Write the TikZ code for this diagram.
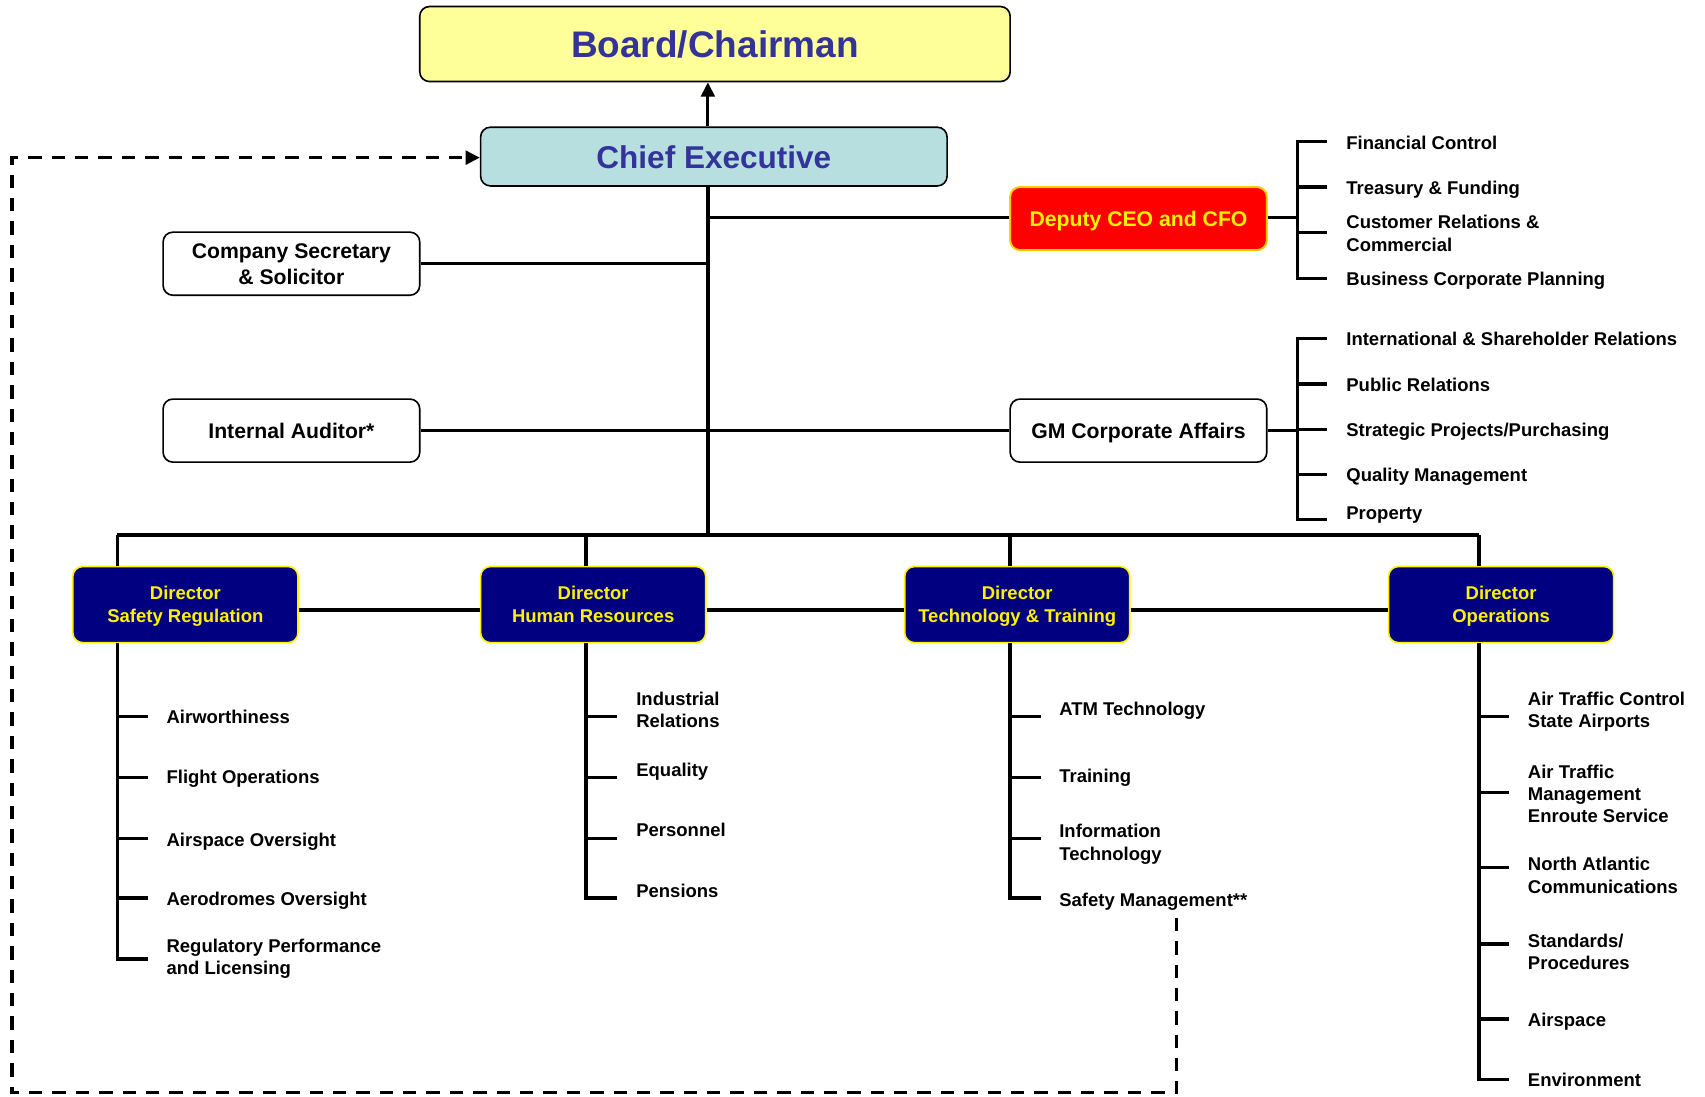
\documentclass[tikz,border=0pt]{standalone}
\usepackage{fontspec}
\setmainfont{Liberation Sans}
\usetikzlibrary{arrows.meta}
\definecolor{boardfill}{RGB}{255,255,153}
\definecolor{cefill}{RGB}{183,223,224}
\definecolor{titleblue}{RGB}{51,51,153}
\definecolor{navybox}{RGB}{0,0,128}
\definecolor{depborder}{RGB}{255,204,0}
\begin{document}
\begin{tikzpicture}[x=1pt,y=-1pt,
  conn/.style={line width=3.1pt, draw=black},
  dashconn/.style={line width=3pt, draw=black, dash pattern=on 12.3pt off 9.2pt},
  box/.style={draw=black, line width=1.5pt, rounded corners=9pt, inner sep=0pt, align=center, text depth=0pt},
  whitebox/.style={box, fill=white, minimum width=236pt, minimum height=58pt,
     font=\fontsize{19.5}{24}\selectfont\bfseries},
  dirbox/.style={box, fill=navybox, draw=yellow, text=yellow, minimum width=207pt, minimum height=70pt,
     font=\fontsize{17}{21}\selectfont\bfseries},
  item/.style={anchor=west, align=left, inner sep=0pt, text depth=0pt, font=\fontsize{17}{20.5}\selectfont\bfseries},
  tip/.style={-{Triangle[length=13pt,width=12.5pt]}}
]
\useasboundingbox (0,0) rectangle (1568,1008);

% top boxes
\node[box, fill=boardfill, minimum width=543pt, minimum height=69pt, text=titleblue,
      font=\fontsize{34}{40}\selectfont\bfseries] (board) at (657.5,40.5) {Board/Chairman};
\node[box, fill=cefill, minimum width=429pt, minimum height=54pt, text=titleblue,
      font=\fontsize{29}{34}\selectfont\bfseries] (ce) at (656.5,144) {Chief Executive};

\node[box, fill=red, draw=depborder, line width=1.8pt, text=yellow, minimum width=236pt, minimum height=58pt,
      font=\fontsize{19.5}{24}\selectfont\bfseries] (dep) at (1047,201) {Deputy CEO and CFO};
\node[whitebox] (cs) at (268,242.5) {Company Secretary\\\& Solicitor};
\node[whitebox] (ia) at (268,396) {Internal Auditor*};
\node[whitebox] (gm) at (1047,396) {GM Corporate Affairs};

% directors
\node[dirbox] (dsr) at (170.5,556) {Director\\Safety Regulation};
\node[dirbox] (dhr) at (545.5,556) {Director\\Human Resources};
\node[dirbox] (dtt) at (935.5,556) {Director\\Technology \& Training};
\node[dirbox] (dop) at (1380.5,556) {Director\\Operations};

% spine coordinates
\coordinate (spine) at (651,492);
\coordinate (b1) at (108,492);
\coordinate (b2) at (539,492);
\coordinate (b3) at (929,492);
\coordinate (b4) at (1360,492);
\coordinate (hl) at (0,561);

% main connectors
\draw[line width=2.7pt, tip] (ce.north -| spine) -- (board.south -| spine);
\draw[conn] (ce.south -| spine) -- (spine);
\draw[conn] (spine |- 0,200) -- (dep.west |- 0,200);
\draw[conn] (cs.east) -- (cs.east -| spine);
\draw[conn] (ia.east) -- (gm.west);
\draw[conn] (b1) -- (b4);
\draw[conn] (b1) -- (b1 |- dsr.north);
\draw[conn] (b2) -- (b2 |- dhr.north);
\draw[conn] (b3) -- (b3 |- dtt.north);
\draw[conn] (b4) -- (b4 |- dop.north);
\draw[conn] (dsr.east |- hl) -- (dhr.west |- hl);
\draw[conn] (dhr.east |- hl) -- (dtt.west |- hl);
\draw[conn] (dtt.east |- hl) -- (dop.west |- hl);

% Deputy bracket
\draw[conn] (dep.east |- 0,200) -- (1193,200);
\draw[conn] (1220,130) -- (1193,130) -- (1193,256) -- (1220,256);
\foreach \y in {172,214} \draw[conn] (1193,\y) -- (1220,\y);
\node[item] (fc) at (1238,131) {Financial Control};
\node[item] (tf) at (1238,173) {Treasury \& Funding};
\node[item] (cr) at (1238,214.5) {Customer Relations \&\\Commercial};
\node[item] (bp) at (1238,256) {Business Corporate Planning};

% GM bracket
\draw[conn] (gm.east) -- (gm.east -| 1193,0);
\draw[conn] (1220,311.5) -- (1193,311.5) -- (1193,477.5) -- (1220,477.5);
\foreach \y in {353,395,436.5} \draw[conn] (1193,\y) -- (1220,\y);
\node[item] (isr) at (1238,312) {International \& Shareholder Relations};
\node[item] (pr) at (1238,353.5) {Public Relations};
\node[item] (sp) at (1238,395) {Strategic Projects/Purchasing};
\node[item] (qm) at (1238,437) {Quality Management};
\node[item] (prop) at (1238,472) {Property};

% Safety Regulation list
\draw[conn] (b1 |- dsr.south) -- (108,882) -- (136,882);
\foreach \y in {659,715,771,826} \draw[conn] (108,\y) -- (136,\y);
\node[item] (sr1) at (153,659) {Airworthiness};
\node[item] (sr2) at (153,714) {Flight Operations};
\node[item] (sr3) at (153,772) {Airspace Oversight};
\node[item] (sr4) at (153,826.5) {Aerodromes Oversight};
\node[item] (sr5) at (153,880) {Regulatory Performance\\and Licensing};

% Human Resources list
\draw[conn] (b2 |- dhr.south) -- (539,826) -- (567,826);
\foreach \y in {659,715,771} \draw[conn] (539,\y) -- (567,\y);
\node[item] (hr1) at (585,652.5) {Industrial\\Relations};
\node[item] (hr2) at (585,708) {Equality};
\node[item] (hr3) at (585,763.5) {Personnel};
\node[item] (hr4) at (585,819.5) {Pensions};

% Technology & Training list
\draw[conn] (b3 |- dtt.south) -- (929,826) -- (957,826);
\foreach \y in {659,715,771} \draw[conn] (929,\y) -- (957,\y);
\node[item] (tt1) at (974,652) {ATM Technology};
\node[item] (tt2) at (974,713.5) {Training};
\node[item] (tt3) at (974,774.5) {Information\\Technology};
\node[item] (tt4) at (974,827.5) {Safety Management**};

% Operations list
\draw[conn] (b4 |- dop.south) -- (1360,993) -- (1388,993);
\foreach \y in {659,729,798,868,937} \draw[conn] (1360,\y) -- (1388,\y);
\node[item] (op1) at (1405,652.5) {Air Traffic Control\\State Airports};
\node[item] (op2) at (1405,730) {Air Traffic\\Management\\Enroute Service};
\node[item] (op3) at (1405,805) {North Atlantic\\Communications};
\node[item] (op4) at (1405,875) {Standards/\\Procedures};
\node[item] (op5) at (1405,937.5) {Airspace};
\node[item] (op6) at (1405,993) {Environment};

% dashed reporting line
\coordinate (ds) at (1082,844);
\coordinate (dc1) at (1082,1005);
\coordinate (dc2) at (11,1005);
\coordinate (dc3) at (11,145);
\draw[dashconn, tip] (ds) -- (dc1) -- (dc2) -- (dc3) -- (ce.west |- dc3);
\end{tikzpicture}
\end{document}
